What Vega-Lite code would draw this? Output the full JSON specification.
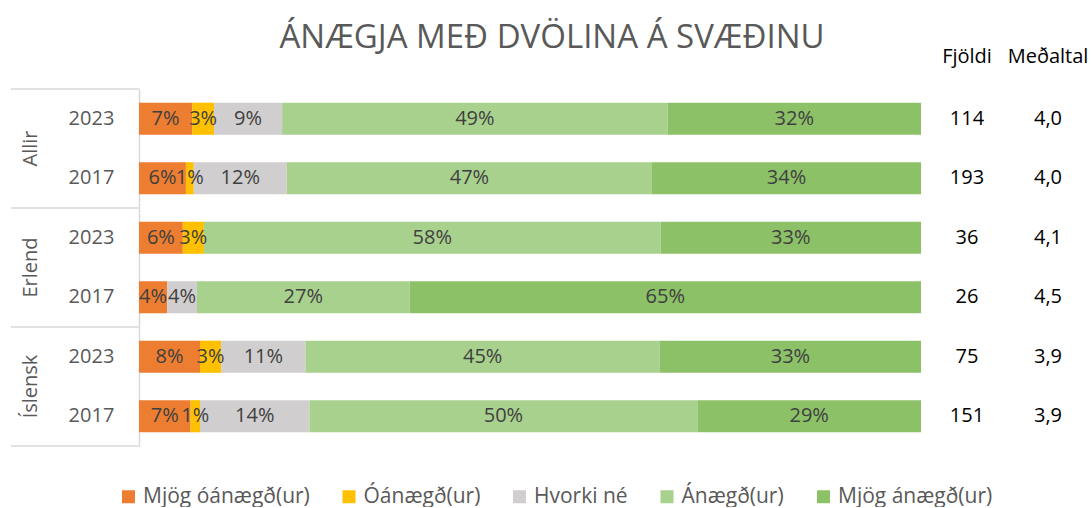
{
  "$schema": "https://vega.github.io/schema/vega-lite/v6.json",
  "padding": {"left": 10, "top": 22, "right": 10, "bottom": 0},
  "background": "white",
  "config": {
    "view": {"stroke": null},
    "font": "Open Sans",
    "locale": {"number": {"decimal": ",", "thousands": ".", "grouping": [3], "currency": ["", " kr."]}}
  },
  "datasets": {
    "shares": [
      {"group": "Allir", "year": "2023", "row": "Allir 2023", "cat": "Mjög óánægð(ur)", "value": 0.068},
      {"group": "Allir", "year": "2023", "row": "Allir 2023", "cat": "Óánægð(ur)", "value": 0.028},
      {"group": "Allir", "year": "2023", "row": "Allir 2023", "cat": "Hvorki né", "value": 0.087},
      {"group": "Allir", "year": "2023", "row": "Allir 2023", "cat": "Ánægð(ur)", "value": 0.493},
      {"group": "Allir", "year": "2023", "row": "Allir 2023", "cat": "Mjög ánægð(ur)", "value": 0.324},
      {"group": "Allir", "year": "2017", "row": "Allir 2017", "cat": "Mjög óánægð(ur)", "value": 0.060},
      {"group": "Allir", "year": "2017", "row": "Allir 2017", "cat": "Óánægð(ur)", "value": 0.010},
      {"group": "Allir", "year": "2017", "row": "Allir 2017", "cat": "Hvorki né", "value": 0.119},
      {"group": "Allir", "year": "2017", "row": "Allir 2017", "cat": "Ánægð(ur)", "value": 0.467},
      {"group": "Allir", "year": "2017", "row": "Allir 2017", "cat": "Mjög ánægð(ur)", "value": 0.344},
      {"group": "Erlend", "year": "2023", "row": "Erlend 2023", "cat": "Mjög óánægð(ur)", "value": 0.056},
      {"group": "Erlend", "year": "2023", "row": "Erlend 2023", "cat": "Óánægð(ur)", "value": 0.027},
      {"group": "Erlend", "year": "2023", "row": "Erlend 2023", "cat": "Ánægð(ur)", "value": 0.584},
      {"group": "Erlend", "year": "2023", "row": "Erlend 2023", "cat": "Mjög ánægð(ur)", "value": 0.333},
      {"group": "Erlend", "year": "2017", "row": "Erlend 2017", "cat": "Mjög óánægð(ur)", "value": 0.036},
      {"group": "Erlend", "year": "2017", "row": "Erlend 2017", "cat": "Hvorki né", "value": 0.038},
      {"group": "Erlend", "year": "2017", "row": "Erlend 2017", "cat": "Ánægð(ur)", "value": 0.272},
      {"group": "Erlend", "year": "2017", "row": "Erlend 2017", "cat": "Mjög ánægð(ur)", "value": 0.654},
      {"group": "Íslensk", "year": "2023", "row": "Íslensk 2023", "cat": "Mjög óánægð(ur)", "value": 0.078},
      {"group": "Íslensk", "year": "2023", "row": "Íslensk 2023", "cat": "Óánægð(ur)", "value": 0.027},
      {"group": "Íslensk", "year": "2023", "row": "Íslensk 2023", "cat": "Hvorki né", "value": 0.108},
      {"group": "Íslensk", "year": "2023", "row": "Íslensk 2023", "cat": "Ánægð(ur)", "value": 0.453},
      {"group": "Íslensk", "year": "2023", "row": "Íslensk 2023", "cat": "Mjög ánægð(ur)", "value": 0.334},
      {"group": "Íslensk", "year": "2017", "row": "Íslensk 2017", "cat": "Mjög óánægð(ur)", "value": 0.066},
      {"group": "Íslensk", "year": "2017", "row": "Íslensk 2017", "cat": "Óánægð(ur)", "value": 0.012},
      {"group": "Íslensk", "year": "2017", "row": "Íslensk 2017", "cat": "Hvorki né", "value": 0.140},
      {"group": "Íslensk", "year": "2017", "row": "Íslensk 2017", "cat": "Ánægð(ur)", "value": 0.496},
      {"group": "Íslensk", "year": "2017", "row": "Íslensk 2017", "cat": "Mjög ánægð(ur)", "value": 0.286}
    ],
    "totals": [
      {"group": "Allir", "year": "2023", "row": "Allir 2023", "n": 114, "mean": 4.0},
      {"group": "Allir", "year": "2017", "row": "Allir 2017", "n": 193, "mean": 4.0},
      {"group": "Erlend", "year": "2023", "row": "Erlend 2023", "n": 36, "mean": 4.1},
      {"group": "Erlend", "year": "2017", "row": "Erlend 2017", "n": 26, "mean": 4.5},
      {"group": "Íslensk", "year": "2023", "row": "Íslensk 2023", "n": 75, "mean": 3.9},
      {"group": "Íslensk", "year": "2017", "row": "Íslensk 2017", "n": 151, "mean": 3.9}
    ]
  },
  "bounds": "flush",
  "spacing": 0,
  "hconcat": [
    {
      "width": 128,
      "height": 357,
      "data": {"name": "totals"},
      "layer": [
        {
          "transform": [{"filter": "datum.year == '2023'"}],
          "mark": {"type": "rule", "color": "#D9D9D9", "strokeWidth": 1.5},
          "encoding": {
            "y": {"field": "row", "type": "nominal", "bandPosition": 0,
              "scale": {"type": "band", "domain": ["Allir 2023", "Allir 2017", "Erlend 2023", "Erlend 2017", "Íslensk 2023", "Íslensk 2017"], "paddingInner": 0, "paddingOuter": 0},
              "axis": null}
          }
        },
        {
          "transform": [{"filter": "datum.row == 'Íslensk 2017'"}],
          "mark": {"type": "rule", "color": "#D9D9D9", "strokeWidth": 1.5},
          "encoding": {
            "y": {"field": "row", "type": "nominal", "bandPosition": 1, "axis": null}
          }
        },
        {
          "transform": [{"filter": "datum.year == '2017'"}],
          "mark": {"type": "text", "fontSize": 20, "color": "#595959", "angle": 270, "align": "center", "baseline": "middle"},
          "encoding": {
            "y": {"field": "row", "type": "nominal", "bandPosition": 0, "axis": null},
            "x": {"datum": "g", "type": "nominal", "scale": {"type": "point", "domain": ["g", "y"], "padding": 0.558, "align": 0.296}, "axis": null},
            "text": {"field": "group", "type": "nominal"}
          }
        },
        {
          "mark": {"type": "text", "fontSize": 20, "color": "#595959", "align": "center", "baseline": "middle"},
          "encoding": {
            "y": {"field": "row", "type": "nominal", "axis": null},
            "x": {"datum": "y", "type": "nominal"},
            "text": {"field": "year", "type": "nominal"}
          }
        }
      ]
    },
    {
      "width": 782,
      "height": 357,
      "title": {"text": "ÁNÆGJA MEÐ DVÖLINA Á SVÆÐINU", "fontSize": 33, "fontWeight": "normal", "color": "#595959", "anchor": "middle", "dx": 22, "offset": 34, "font": "Open Sans"},
      "data": {"name": "shares"},
      "transform": [
        {"calculate": "indexof(['Mjög óánægð(ur)','Óánægð(ur)','Hvorki né','Ánægð(ur)','Mjög ánægð(ur)'], datum.cat)", "as": "k"}
      ],
      "encoding": {
        "y": {"field": "row", "type": "nominal",
          "scale": {"domain": ["Allir 2023", "Allir 2017", "Erlend 2023", "Erlend 2017", "Íslensk 2023", "Íslensk 2017"], "paddingInner": 0, "paddingOuter": 0},
          "axis": {"labels": false, "ticks": false, "title": null, "domainColor": "#D9D9D9", "domainWidth": 1.5, "grid": false}},
        "order": {"field": "k", "type": "quantitative"}
      },
      "layer": [
        {
          "mark": {"type": "bar", "height": {"band": 0.54}},
          "encoding": {
            "x": {"field": "value", "type": "quantitative", "stack": "normalize", "scale": {"domain": [0, 1]}, "axis": null},
            "color": {"field": "cat", "type": "nominal",
              "scale": {"domain": ["Mjög óánægð(ur)", "Óánægð(ur)", "Hvorki né", "Ánægð(ur)", "Mjög ánægð(ur)"], "range": ["#ED7D31", "#FFC000", "#D0CECE", "#A9D18E", "#8CC168"]},
              "legend": {"title": null, "orient": "none", "legendX": 107, "legendY": 397, "direction": "horizontal", "symbolType": "square", "symbolSize": 169, "symbolStrokeWidth": 0, "labelFontSize": 21, "labelColor": "#595959", "labelFont": "Open Sans", "columnPadding": 28.5, "labelOffset": 4, "labelLimit": 300}}
          }
        },
        {
          "mark": {"type": "text", "fontSize": 20, "color": "#404040", "align": "center", "baseline": "middle"},
          "encoding": {
            "x": {"field": "value", "type": "quantitative", "stack": "normalize", "bandPosition": 0.5},
            "detail": {"field": "cat", "type": "nominal"},
            "text": {"field": "value", "type": "quantitative", "format": ".0%"}
          }
        }
      ]
    },
    {
      "width": 92,
      "height": 357,
      "title": {"text": "Fjöldi", "fontSize": 20, "fontWeight": "normal", "color": "#000000", "anchor": "middle", "offset": 22, "font": "Open Sans"},
      "data": {"name": "totals"},
      "mark": {"type": "text", "fontSize": 20, "color": "#000000", "align": "center", "baseline": "middle"},
      "encoding": {
        "y": {"field": "row", "type": "nominal",
          "scale": {"type": "band", "domain": ["Allir 2023", "Allir 2017", "Erlend 2023", "Erlend 2017", "Íslensk 2023", "Íslensk 2017"], "paddingInner": 0, "paddingOuter": 0},
          "axis": null},
        "text": {"field": "n", "type": "quantitative"}
      }
    },
    {
      "width": 70,
      "height": 357,
      "title": {"text": "Meðaltal", "fontSize": 20, "fontWeight": "normal", "color": "#000000", "anchor": "middle", "offset": 22, "font": "Open Sans"},
      "data": {"name": "totals"},
      "mark": {"type": "text", "fontSize": 20, "color": "#000000", "align": "center", "baseline": "middle"},
      "encoding": {
        "y": {"field": "row", "type": "nominal",
          "scale": {"type": "band", "domain": ["Allir 2023", "Allir 2017", "Erlend 2023", "Erlend 2017", "Íslensk 2023", "Íslensk 2017"], "paddingInner": 0, "paddingOuter": 0},
          "axis": null},
        "text": {"field": "mean", "type": "quantitative", "format": ".1f"}
      }
    }
  ]
}
